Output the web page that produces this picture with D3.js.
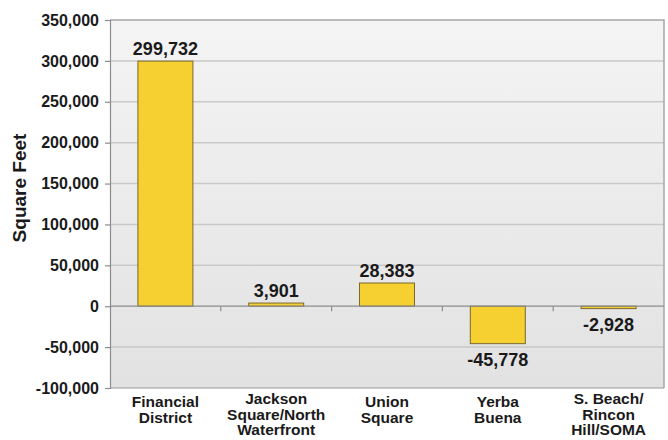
<!DOCTYPE html>
<html>
<head>
<meta charset="utf-8">
<script src="https://cdn.jsdelivr.net/npm/d3@7"></script>
<style>
html,body{margin:0;padding:0;background:#fff;}
svg text{font-family:"Liberation Sans",Arial,sans-serif;font-weight:bold;fill:#1a1a1a;}
</style>
</head>
<body>
<svg id="chart" width="668" height="440"></svg>
<script>
const categories = [
  ["Financial","District"],
  ["Jackson","Square/North","Waterfront"],
  ["Union","Square"],
  ["Yerba","Buena"],
  ["S. Beach/","Rincon","Hill/SOMA"]
];
const values = [299732, 3901, 28383, -45778, -2928];
const yTicks = [-100000, -50000, 0, 50000, 100000, 150000, 200000, 250000, 300000, 350000];
const yTitle = "Square Feet";

const svg = d3.select("#chart");
const m = {left:110, right:664, top:20, bottom:388};

const x = d3.scaleBand().domain(d3.range(categories.length)).range([m.left, m.right]).paddingInner(0).paddingOuter(0);
const y = d3.scaleLinear().domain([-100000, 350000]).range([m.bottom, m.top]);
const fmt0 = d3.format(",");
const fmt = d => fmt0(d).replace("\u2212","-");

// background gradient
const defs = svg.append("defs");
const grad = defs.append("linearGradient").attr("id","bg").attr("x1",0).attr("y1",0).attr("x2",0).attr("y2",1);
grad.append("stop").attr("offset","0%").attr("stop-color","#f4f4f4");
grad.append("stop").attr("offset","100%").attr("stop-color","#e2e2e2");

svg.append("rect").attr("x",m.left).attr("y",m.top).attr("width",m.right-m.left).attr("height",m.bottom-m.top).attr("fill","url(#bg)");

// gridlines
svg.append("g").selectAll("line").data(yTicks.filter(d=>d!==0 && d!==-100000 && d!==350000)).join("line")
  .attr("x1",m.left).attr("x2",m.right).attr("y1",d=>y(d)).attr("y2",d=>y(d))
  .attr("stroke","#c9c9c9").attr("stroke-width",1.5);

// top & right border
svg.append("path").attr("d",`M${m.left},${m.top}H${m.right}V${m.bottom}`).attr("fill","none").attr("stroke","#a6a6a6").attr("stroke-width",1.5);

// bars
const bw = 55;
svg.append("g").selectAll("rect").data(values).join("rect")
  .attr("x",(d,i)=>x(i)+x.bandwidth()/2-bw/2)
  .attr("width",bw)
  .attr("y",d=>y(Math.max(0,d)))
  .attr("height",d=>Math.abs(y(d)-y(0)))
  .attr("fill","#f6cf31").attr("stroke","#7a6a2c").attr("stroke-width",1);

// zero line and bottom line
svg.append("line").attr("x1",m.left).attr("x2",m.right).attr("y1",y(0)).attr("y2",y(0)).attr("stroke","#8c8c8c").attr("stroke-width",1.2);
svg.append("line").attr("x1",m.left).attr("x2",m.right).attr("y1",m.bottom).attr("y2",m.bottom).attr("stroke","#9a9a9a").attr("stroke-width",1.2);

// category boundary ticks on zero line
svg.append("g").selectAll("line").data(d3.range(1,categories.length)).join("line")
  .attr("x1",i=>x(i)).attr("x2",i=>x(i)).attr("y1",y(0)).attr("y2",y(0)+5)
  .attr("stroke","#8c8c8c").attr("stroke-width",1.2);

// y axis
const yAxis = d3.axisLeft(y).tickValues(yTicks).tickFormat(fmt).tickSize(5).tickPadding(6);
const ga = svg.append("g").attr("transform",`translate(${m.left},0)`).call(yAxis);
ga.select(".domain").attr("stroke","#8c8c8c").attr("stroke-width",1.2);
ga.selectAll(".tick line").attr("stroke","#8c8c8c").attr("stroke-width",1.2);
ga.selectAll(".tick text").attr("font-size","16px").attr("fill","#1a1a1a").attr("font-family","Liberation Sans, Arial, sans-serif").attr("font-weight","bold");

// y title
svg.append("text").attr("transform","translate(26,188) rotate(-90)").attr("text-anchor","middle")
  .attr("font-size","19px").text(yTitle);

// value labels
svg.append("g").selectAll("text").data(values).join("text")
  .attr("x",(d,i)=>x(i)+x.bandwidth()/2)
  .attr("y",d=> d>=0 ? y(d)-6 : y(d)+22)
  .attr("text-anchor","middle").attr("font-size","18px").text(d=>fmt(d));

// category labels
const cg = svg.append("g").selectAll("text").data(categories).join("text")
  .attr("x",(d,i)=>x(i)+x.bandwidth()/2)
  .attr("y",d=> d.length===3 ? 404 : 407)
  .attr("text-anchor","middle").attr("font-size","15.5px");
cg.selectAll("tspan").data(d=>d).join("tspan")
  .attr("x",function(){return d3.select(this.parentNode).attr("x");})
  .attr("dy",(d,i)=>i===0?0:15.5)
  .text(d=>d);
</script>
</body>
</html>
